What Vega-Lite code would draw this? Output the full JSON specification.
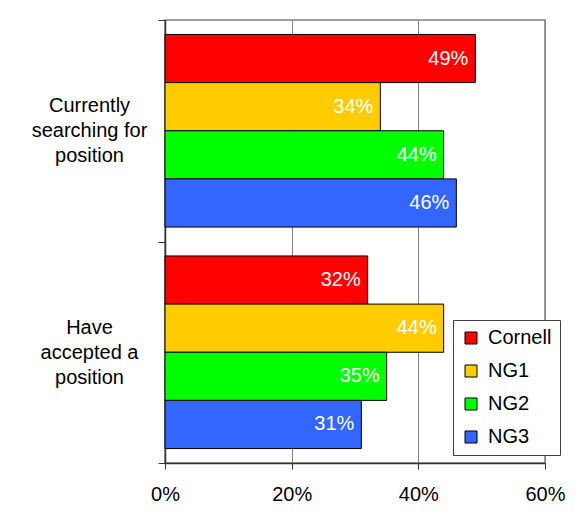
{
  "$schema": "https://vega.github.io/schema/vega-lite/v6.json",
  "width": 380,
  "height": 443,
  "autosize": {"type": "none"},
  "padding": {"left": 165, "top": 20, "right": 39, "bottom": 60},
  "background": "white",
  "config": {
    "font": "Liberation Sans",
    "view": {"stroke": "#808080", "strokeWidth": 1.5}
  },
  "data": {
    "values": [
      {"status": "Currently searching for position", "group": "Cornell", "pct": 0.49},
      {"status": "Currently searching for position", "group": "NG1", "pct": 0.34},
      {"status": "Currently searching for position", "group": "NG2", "pct": 0.44},
      {"status": "Currently searching for position", "group": "NG3", "pct": 0.46},
      {"status": "Have accepted a position", "group": "Cornell", "pct": 0.32},
      {"status": "Have accepted a position", "group": "NG1", "pct": 0.44},
      {"status": "Have accepted a position", "group": "NG2", "pct": 0.35},
      {"status": "Have accepted a position", "group": "NG3", "pct": 0.31}
    ]
  },
  "encoding": {
    "y": {
      "field": "status",
      "type": "nominal",
      "sort": null,
      "scale": {"paddingInner": 0, "paddingOuter": 0},
      "axis": {
        "title": null,
        "tickBand": "extent",
        "tickSize": 7,
        "tickColor": "#333333",
        "domainColor": "#333333",
        "domainWidth": 1.5,
        "labelAlign": "center",
        "labelBaseline": "middle",
        "labelPadding": 69,
        "labelOffset": -25,
        "labelFontSize": 20,
        "labelLineHeight": 25,
        "labelColor": "black",
        "labelExpr": "datum.value == 'Currently searching for position' ? ['Currently', 'searching for', 'position'] : (datum.value == 'Have accepted a position' ? ['Have', 'accepted a', 'position'] : '')"
      }
    },
    "yOffset": {
      "field": "group",
      "type": "nominal",
      "sort": ["Cornell", "NG1", "NG2", "NG3"],
      "scale": {"paddingInner": 0, "paddingOuter": 0.3}
    },
    "x": {
      "field": "pct",
      "type": "quantitative",
      "scale": {"domain": [0, 0.6], "nice": false},
      "axis": {
        "title": null,
        "values": [0, 0.2, 0.4, 0.6],
        "format": ".0%",
        "grid": true,
        "gridColor": "#808080",
        "gridWidth": 1,
        "tickSize": 6,
        "tickColor": "#333333",
        "domainColor": "#333333",
        "domainWidth": 1.5,
        "labelFlush": false,
        "labelFontSize": 20,
        "labelColor": "black",
        "labelPadding": 15
      }
    }
  },
  "layer": [
    {
      "mark": {"type": "bar", "stroke": "black", "strokeWidth": 1},
      "encoding": {
        "color": {
          "field": "group",
          "type": "nominal",
          "sort": ["Cornell", "NG1", "NG2", "NG3"],
          "scale": {"domain": ["Cornell", "NG1", "NG2", "NG3"], "range": ["#FF0000", "#FFCC00", "#00FF00", "#3366FF"]},
          "legend": {
            "title": null,
            "orient": "none",
            "legendX": 288,
            "legendY": 300,
            "symbolType": "square",
            "symbolSize": 144,
            "symbolStrokeColor": "black",
            "symbolStrokeWidth": 1,
            "symbolOpacity": 1,
            "labelFontSize": 20,
            "labelColor": "black",
            "labelOffset": 7,
            "rowPadding": 13,
            "padding": 8,
            "strokeColor": "#404040",
            "fillColor": "white"
          }
        }
      }
    },
    {
      "mark": {"type": "text", "align": "right", "baseline": "middle", "dx": -7, "fontSize": 20, "color": "white"},
      "encoding": {
        "text": {"field": "pct", "type": "quantitative", "format": ".0%"}
      }
    }
  ]
}
